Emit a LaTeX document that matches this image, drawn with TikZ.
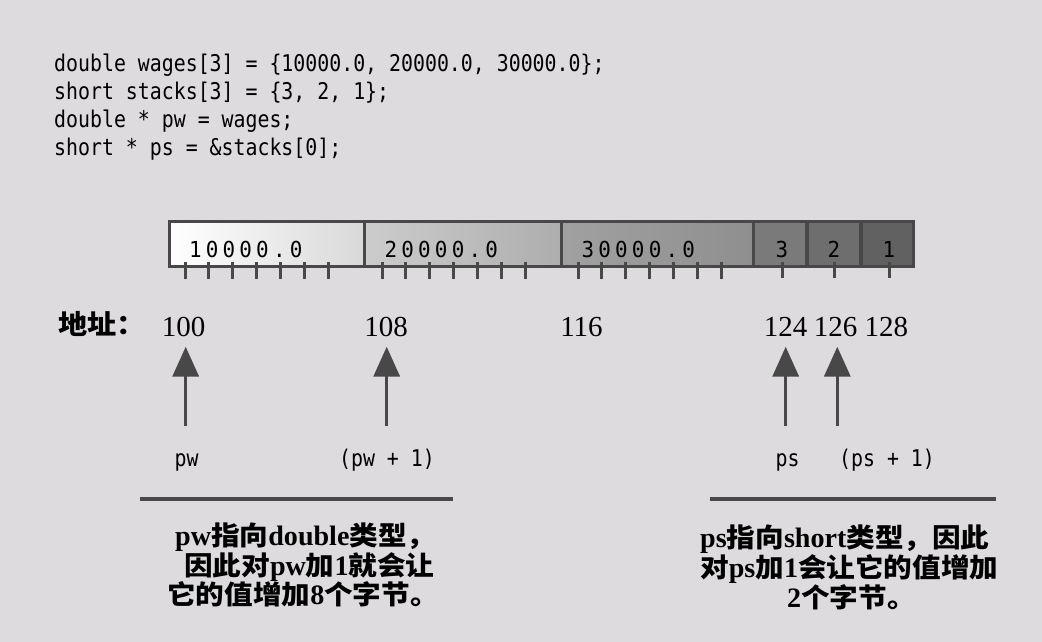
\documentclass[tikz,border=0pt]{standalone}
\usepackage{fontspec}
\setmainfont{Liberation Serif}
\newfontfamily\cjkfont[FakeStretch=1.08]{Noto Sans CJK SC}
\newfontfamily\latfont[Scale=1.06]{Liberation Serif}
\newfontfamily\codefont[FakeStretch=0.864]{DejaVu Sans Mono}
\newfontfamily\barfont[LetterSpace=19,FakeStretch=0.95]{DejaVu Sans Mono}
\newfontfamily\digfont[FakeStretch=0.95]{DejaVu Sans Mono}
\usetikzlibrary{arrows.meta}
\definecolor{bg}{RGB}{221,219,222}
\definecolor{ink}{RGB}{72,72,72}
\newcommand\zh[1]{{\cjkfont #1}}
\newcommand\la[1]{{\latfont #1}}
\begin{document}
\begin{tikzpicture}[x=1pt,y=-1pt,
  code/.style={font=\codefont\fontsize{23}{26}\selectfont, inner sep=0pt, anchor=base west},
  lbl/.style={font=\codefont\fontsize{23}{26}\selectfont, inner sep=0pt, anchor=base},
  cellnum/.style={font=\barfont\fontsize{22}{24}\selectfont, inner sep=0pt, anchor=base west},
  shortnum/.style={font=\digfont\fontsize{22}{24}\selectfont, inner sep=0pt, anchor=base},
  addr/.style={font=\fontsize{29}{32}\selectfont, inner sep=0pt, anchor=base},
  expl/.style={font=\bfseries\fontsize{26.5}{30}\selectfont, inner sep=0pt, anchor=base west},
  ptr/.style={draw=ink, line width=3.5pt, -{Triangle[width=26pt,length=30pt]}},
  tickmark/.style={draw=ink, line width=3pt},
  rulebar/.style={draw=ink, line width=4pt},
  border/.style={draw=ink, line width=3.4pt},
]
\useasboundingbox (0,0) rectangle (1042,642);
\fill[bg] (0,0) rectangle (1042,642);

% code
\node[code] (c1) at (54,71.7) {double wages[3] = \{10000.0, 20000.0, 30000.0\};};
\node[code] (c2) at (54,99.5) {short stacks[3] = \{3, 2, 1\};};
\node[code] (c3) at (54,127.2) {double * pw = wages;};
\node[code] (c4) at (54,155) {short * ps = \&stacks[0];};

% memory bar cells
\shade[left color=white, right color=black!15] (169.5,221.5) rectangle (364.5,266.5);
\shade[left color=black!20, right color=black!32] (364.5,221.5) rectangle (561.5,266.5);
\shade[left color=black!37, right color=black!44] (561.5,221.5) rectangle (753.5,266.5);
\fill[black!52] (753.5,221.5) rectangle (807,266.5);
\fill[black!57] (807,221.5) rectangle (861,266.5);
\fill[black!62] (861,221.5) rectangle (913.5,266.5);
\draw[border] (169.5,221.5) rectangle (913.5,266.5);
\foreach \x in {364.5,561.5,753.5,807,861}
  \draw[border] (\x,221.5) -- (\x,266.5);

% ticks
\foreach \s in {185,382,578}
  \foreach \k in {0,...,6}
    \draw[tickmark] (\s+23.9*\k,262) -- (\s+23.9*\k,279);
\foreach \x in {782,834,889}
  \draw[tickmark] (\x,262) -- (\x,278);

% cell values
\node[cellnum] (v1) at (189,257.5) {10000.0};
\node[cellnum] (v2) at (384.5,257.5) {20000.0};
\node[cellnum] (v3) at (581.5,257.5) {30000.0};
\node[shortnum] (s3) at (782,257.5) {3};
\node[shortnum] (s2) at (834,257.5) {2};
\node[shortnum] (s1) at (889,257.5) {1};

% addresses
\node[font=\cjkfont\bfseries\fontsize{27}{30}\selectfont, anchor=base west, inner sep=0pt] (addrlbl) at (58,334) {地址：};
\node[addr] (a100) at (183.5,336.7) {100};
\node[addr] (a108) at (386,336.7) {108};
\node[addr] (a116) at (581.5,336.7) {116};
\node[addr] (a124) at (785.5,336.7) {124};
\node[addr] (a126) at (835.5,336.7) {126};
\node[addr] (a128) at (886.3,336.7) {128};

% pointer arrows
\coordinate (p1t) at (185.7,426); \coordinate (p1h) at (185.7,346.7);
\coordinate (p2t) at (386.7,426); \coordinate (p2h) at (386.7,346.7);
\coordinate (p3t) at (785.7,426); \coordinate (p3h) at (785.7,346.7);
\coordinate (p4t) at (837.3,426); \coordinate (p4h) at (837.3,346.7);
\draw[ptr] (p1t) -- (p1h);
\draw[ptr] (p2t) -- (p2h);
\draw[ptr] (p3t) -- (p3h);
\draw[ptr] (p4t) -- (p4h);

% pointer labels
\node[lbl] (lpw) at (186.7,466.7) {pw};
\node[lbl] (lpw1) at (387,466.7) {(pw + 1)};
\node[lbl] (lps) at (787.5,466.7) {ps};
\node[lbl] (lps1) at (887,466.7) {(ps + 1)};

% rules
\coordinate (r1a) at (140,499); \coordinate (r1b) at (453,499);
\coordinate (r2a) at (710,499); \coordinate (r2b) at (996,499);
\draw[rulebar] (r1a) -- (r1b);
\draw[rulebar] (r2a) -- (r2b);

% explanations
\node[expl] (e1) at (175,545.5) {\la{pw}\zh{指向}\la{double}\zh{类型，}};
\node[expl] (e2) at (184,575) {\zh{因此对}\la{pw}\zh{加}\la{1}\zh{就会让}};
\node[expl] (e3) at (167,604) {\zh{它的值增加}\la{8}\zh{个字节。}};
\node[expl] (f1) at (700,547) {\la{ps}\zh{指向}\la{short}\zh{类型，因此}};
\node[expl] (f2) at (700,577) {\zh{对}\la{ps}\zh{加}\la{1}\zh{会让它的值增加}};
\node[expl] (f3) at (787,607) {\la{2}\zh{个字节。}};
\end{tikzpicture}
\end{document}
